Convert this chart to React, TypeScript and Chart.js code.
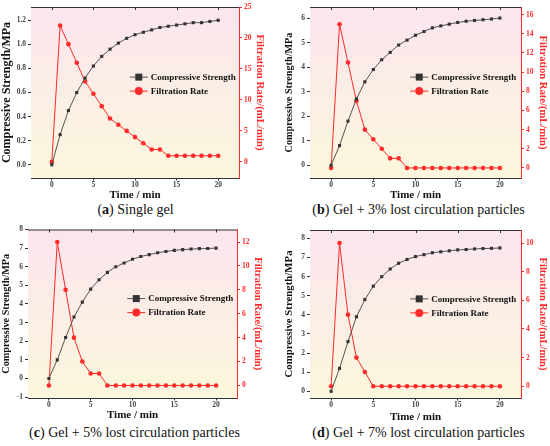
import { useEffect, useRef } from "react";
import Chart from "chart.js/auto";

// shared x values (time, min)
const time = [0, 1, 2, 3, 4, 5, 6, 7, 8, 9, 10, 11, 12, 13, 14, 15, 16, 17, 18, 19, 20];
const timeTicks = [0, 5, 10, 15, 20];

// (a) single gel
const strengthA = [0, 0.25, 0.45, 0.6, 0.72, 0.82, 0.9, 0.96, 1.01, 1.05, 1.08, 1.1, 1.12, 1.14, 1.15, 1.16, 1.17, 1.18, 1.18, 1.19, 1.2];
const filtrationA = [0, 22, 19, 16, 13, 11, 9, 7, 6, 5, 4, 3, 2, 2, 1, 1, 1, 1, 1, 1, 1];
const strengthTicksA = [0, 0.2, 0.4, 0.6, 0.8, 1.0, 1.2];
const filtrationTicksA = [0, 5, 10, 15, 20, 25];

// (b) gel + 3%
const strengthB = [0, 0.8, 1.8, 2.7, 3.4, 3.9, 4.3, 4.6, 4.9, 5.1, 5.3, 5.45, 5.6, 5.68, 5.75, 5.82, 5.87, 5.9, 5.93, 5.96, 6.0];
const filtrationB = [0, 15, 11, 7, 4, 3, 2, 1, 1, 0, 0, 0, 0, 0, 0, 0, 0, 0, 0, 0, 0];
const strengthTicksB = [0, 1, 2, 3, 4, 5, 6];
const filtrationTicksB = [0, 2, 4, 6, 8, 10, 12, 14, 16];

// (c) gel + 5%
const strengthC = [0, 1.0, 2.2, 3.3, 4.1, 4.8, 5.3, 5.7, 6.0, 6.2, 6.4, 6.55, 6.65, 6.75, 6.82, 6.88, 6.92, 6.95, 6.97, 6.98, 7.0];
const filtrationC = [0, 12, 8, 4, 2, 1, 1, 0, 0, 0, 0, 0, 0, 0, 0, 0, 0, 0, 0, 0, 0];
const strengthTicksC = [-1, 0, 1, 2, 3, 4, 5, 6, 7, 8];
const filtrationTicksC = [0, 2, 4, 6, 8, 10, 12];

// (d) gel + 7%
const strengthD = [0, 1.2, 2.6, 3.9, 4.8, 5.5, 6.0, 6.4, 6.7, 6.9, 7.05, 7.15, 7.25, 7.3, 7.35, 7.4, 7.42, 7.45, 7.47, 7.48, 7.5];
const filtrationD = [0, 10, 5, 2, 1, 0, 0, 0, 0, 0, 0, 0, 0, 0, 0, 0, 0, 0, 0, 0, 0];
const strengthTicksD = [0, 1, 2, 3, 4, 5, 6, 7, 8];
const filtrationTicksD = [0, 2, 4, 6, 8, 10];

const SERIF = "'Liberation Serif', 'Times New Roman', serif";
const RED = "#ff2a2a";
const DARK = "#333333";

type PanelProps = {
  strength: number[];
  filtration: number[];
  strengthTicks: number[];
  filtrationTicks: number[];
  leftRange: [number, number];
  rightRange: [number, number];
  decimals: number;
  box: { left: number; top: number; width: number; height: number };
  padding: { left: number; right: number; top: number; bottom: number };
  sizes: { left: number; right: number; bottom: number };
  titleSizes: { left: number; right: number };
};

const decorPlugin = {
  id: "decor",
  beforeDatasetsDraw(chart: any) {
    const { ctx, chartArea: a } = chart;
    const g = ctx.createLinearGradient(0, a.top, 0, a.bottom);
    g.addColorStop(0, "#fce5ef");
    g.addColorStop(1, "#fbf7dc");
    ctx.save();
    ctx.fillStyle = g;
    ctx.fillRect(a.left, a.top, a.right - a.left, a.bottom - a.top);
    ctx.restore();
  },
  afterDatasetsDraw(chart: any) {
    const { ctx, chartArea: a } = chart;
    const x = chart.scales.x;
    ctx.save();
    // top frame with inward ticks
    ctx.strokeStyle = DARK;
    ctx.lineWidth = 1;
    ctx.beginPath();
    ctx.moveTo(a.left, a.top + 0.5);
    ctx.lineTo(a.right, a.top + 0.5);
    timeTicks.forEach((v) => {
      const px = Math.round(x.getPixelForValue(v)) + 0.5;
      ctx.moveTo(px, a.top);
      ctx.lineTo(px, a.top + 3);
    });
    ctx.stroke();

    // legend inside the plot
    const x0 = a.left + (a.right - a.left) * 0.475;
    const y0 = a.top + (a.bottom - a.top) * 0.41;
    chart.data.datasets.forEach((ds: any, i: number) => {
      const y = y0 + i * 14;
      ctx.strokeStyle = ds.borderColor;
      ctx.lineWidth = 1;
      ctx.beginPath();
      ctx.moveTo(x0, y);
      ctx.lineTo(x0 + 18, y);
      ctx.stroke();
      ctx.fillStyle = ds.backgroundColor;
      if (ds.pointStyle === "rect") {
        ctx.fillRect(x0 + 5.5, y - 3.5, 7, 7);
      } else {
        ctx.beginPath();
        ctx.arc(x0 + 9, y, 4, 0, Math.PI * 2);
        ctx.fill();
      }
      ctx.fillStyle = "#111";
      ctx.font = `bold 9px ${SERIF}`;
      ctx.textBaseline = "middle";
      ctx.fillText(ds.label, x0 + 21, y + 0.5);
    });
    ctx.restore();
  },
};

const Panel = (p: PanelProps) => {
  const canvasRef = useRef<HTMLCanvasElement | null>(null);

  useEffect(() => {
    let chart: Chart | null = null;
    let cancelled = false;

    const fixTicks = (values: number[]) => (scale: any) => {
      scale.ticks = values.map((v) => ({ value: v }));
    };
    const tickFont = { family: SERIF, size: 7.5, weight: "bold" as const };

    const build = () => {
      if (cancelled || !canvasRef.current) return;
      chart = new Chart(canvasRef.current, {
        type: "line",
        data: {
          datasets: [
            {
              label: "Compressive Strength",
              data: time.map((t, i) => ({ x: t, y: p.strength[i] })),
              borderColor: "#555555",
              backgroundColor: DARK,
              borderWidth: 1,
              pointStyle: "rect",
              pointRadius: 2.2,
              pointBorderWidth: 0,
              yAxisID: "y",
            },
            {
              label: "Filtration Rate",
              data: time.map((t, i) => ({ x: t, y: p.filtration[i] })),
              borderColor: RED,
              backgroundColor: RED,
              borderWidth: 1,
              pointStyle: "circle",
              pointRadius: 2.3,
              pointBorderWidth: 0,
              yAxisID: "y1",
            },
          ],
        },
        options: {
          animation: false,
          responsive: true,
          maintainAspectRatio: false,
          layout: { padding: p.padding },
          plugins: { legend: { display: false }, tooltip: { enabled: false } },
          scales: {
            x: {
              type: "linear",
              min: -2.5,
              max: 22.5,
              afterBuildTicks: fixTicks(timeTicks),
              afterFit: (s: any) => {
                s.height = p.sizes.bottom;
              },
              grid: { drawOnChartArea: false, tickLength: 2.5, color: DARK },
              border: { color: DARK, width: 1 },
              ticks: { font: tickFont, color: "#444", padding: 0, maxRotation: 0 },
              title: {
                display: true,
                text: "Time / min",
                font: { family: SERIF, size: 11, weight: "bold" },
                color: "#111",
                padding: { top: 0, bottom: 0 },
              },
            },
            y: {
              position: "left",
              min: p.leftRange[0],
              max: p.leftRange[1],
              afterBuildTicks: fixTicks(p.strengthTicks),
              afterFit: (s: any) => {
                s.width = p.sizes.left;
              },
              grid: { drawOnChartArea: false, tickLength: 3, color: DARK },
              border: { color: DARK, width: 1 },
              ticks: {
                font: tickFont,
                color: "#444",
                padding: 2,
                callback: (v: any) => Number(v).toFixed(p.decimals),
              },
              title: {
                display: true,
                text: "Compressive Strength/MPa",
                font: { family: SERIF, size: p.titleSizes.left, weight: "bold" },
                color: "#111",
                padding: { top: 0, bottom: 0 },
              },
            },
            y1: {
              position: "right",
              min: p.rightRange[0],
              max: p.rightRange[1],
              afterBuildTicks: fixTicks(p.filtrationTicks),
              afterFit: (s: any) => {
                s.width = p.sizes.right;
              },
              grid: { drawOnChartArea: false, tickLength: 3, color: RED },
              border: { color: RED, width: 1 },
              ticks: {
                font: tickFont,
                color: RED,
                padding: 2,
                callback: (v: any) => String(v),
              },
              title: {
                display: true,
                text: "Filtration Rate/(mL/min)",
                font: { family: SERIF, size: p.titleSizes.right, weight: "bold" },
                color: RED,
                padding: { top: 0, bottom: 0 },
              },
            },
          },
        },
        plugins: [decorPlugin],
      });
    };

    const fonts = (document as any).fonts;
    if (fonts && fonts.load) {
      Promise.all([
        fonts.load(`bold 11px "Liberation Serif"`),
        fonts.load(`11px "Liberation Serif"`),
      ]).then(build, build);
    } else {
      build();
    }

    return () => {
      cancelled = true;
      if (chart) chart.destroy();
    };
  }, [p]);

  return (
    <div
      style={{
        position: "absolute",
        left: p.box.left,
        top: p.box.top,
        width: p.box.width,
        height: p.box.height,
      }}
    >
      <canvas ref={canvasRef} />
    </div>
  );
};

const captionStyle = (left: number, top: number): React.CSSProperties => ({
  position: "absolute",
  left,
  top,
  width: 275,
  textAlign: "center",
  fontFamily: SERIF,
  fontSize: 14,
  color: "#111",
  whiteSpace: "nowrap",
});

const panelA: PanelProps = {
  strength: strengthA,
  filtration: filtrationA,
  strengthTicks: strengthTicksA,
  filtrationTicks: filtrationTicksA,
  leftRange: [-0.11, 1.31],
  rightRange: [-2.6, 25],
  decimals: 1,
  box: { left: 0, top: 0, width: 275, height: 202 },
  padding: { left: 0, right: 9, top: 7, bottom: 0 },
  sizes: { left: 31, right: 27, bottom: 24 },
  titleSizes: { left: 12, right: 10.8 },
};

const panelB: PanelProps = {
  strength: strengthB,
  filtration: filtrationB,
  strengthTicks: strengthTicksB,
  filtrationTicks: filtrationTicksB,
  leftRange: [-0.52, 6.45],
  rightRange: [-1.05, 16.8],
  decimals: 0,
  box: { left: 275, top: 0, width: 275, height: 202 },
  padding: { left: 8, right: 1, top: 7, bottom: 0 },
  sizes: { left: 27, right: 28, bottom: 24 },
  titleSizes: { left: 10.2, right: 10.6 },
};

const panelC: PanelProps = {
  strength: strengthC,
  filtration: filtrationC,
  strengthTicks: strengthTicksC,
  filtrationTicks: filtrationTicksC,
  leftRange: [-1.05, 8.0],
  rightRange: [-1.05, 13.05],
  decimals: 0,
  box: { left: 0, top: 223, width: 275, height: 200 },
  padding: { left: 0, right: 11, top: 5, bottom: 1 },
  sizes: { left: 28, right: 27, bottom: 24 },
  titleSizes: { left: 10.2, right: 10.5 },
};

const panelD: PanelProps = {
  strength: strengthD,
  filtration: filtrationD,
  strengthTicks: strengthTicksD,
  filtrationTicks: filtrationTicksD,
  leftRange: [-0.35, 8.44],
  rightRange: [-0.82, 10.91],
  decimals: 0,
  box: { left: 275, top: 223, width: 275, height: 202 },
  padding: { left: 8, right: 1, top: 7, bottom: 1 },
  sizes: { left: 27, right: 28, bottom: 26 },
  titleSizes: { left: 10.8, right: 10.5 },
};

const App = () => {
  return (
    <div style={{ position: "absolute", left: 0, top: 0, width: 550, height: 446, background: "#fff", overflow: "hidden" }}>
      <Panel {...panelA} />
      <Panel {...panelB} />
      <Panel {...panelC} />
      <Panel {...panelD} />
      <div style={captionStyle(-2, 202)}>
        (<b>a</b>) Single gel
      </div>
      <div style={captionStyle(281, 202)}>
        (<b>b</b>) Gel + 3% lost circulation particles
      </div>
      <div style={captionStyle(-3, 425)}>
        (<b>c</b>) Gel + 5% lost circulation particles
      </div>
      <div style={captionStyle(281, 425)}>
        (<b>d</b>) Gel + 7% lost circulation particles
      </div>
    </div>
  );
};

export default App;
